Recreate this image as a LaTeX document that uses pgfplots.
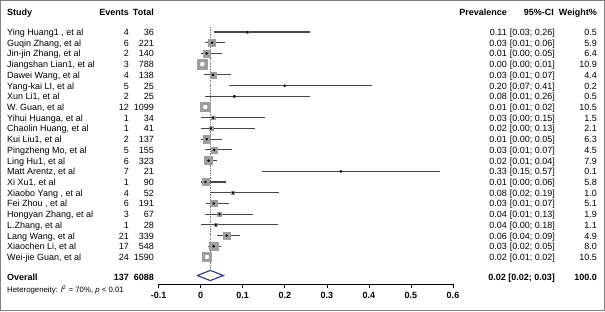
\documentclass[border=0pt]{standalone}
\usepackage{pgfplots}
\pgfplotsset{compat=1.18}
\usepackage{pgfplotstable}
\usepackage{fontspec}
\setmainfont{Liberation Sans}
\definecolor{sqgray}{RGB}{158,158,158}
\definecolor{cigray}{RGB}{70,70,70}
\definecolor{dnavy}{RGB}{35,55,145}
\definecolor{framegray}{RGB}{128,128,128}

\pgfplotstableread{
row est lo hi w
1 0.1111 0.0311 0.2610 0.5
2 0.0271 0.0100 0.0581 5.9
3 0.0143 0.0017 0.0507 6.4
4 0.0038 0.0008 0.0111 10.9
5 0.0290 0.0080 0.0725 4.4
6 0.2000 0.0683 0.4070 0.2
7 0.0800 0.0098 0.2603 0.5
8 0.0109 0.0057 0.0190 10.5
9 0.0294 0.0007 0.1533 1.5
10 0.0244 0.0006 0.1286 2.1
11 0.0146 0.0018 0.0517 6.3
12 0.0323 0.0106 0.0737 4.5
13 0.0186 0.0068 0.0400 7.9
14 0.3333 0.1459 0.5697 0.1
15 0.0111 0.0003 0.0604 5.8
16 0.0769 0.0214 0.1854 1.0
17 0.0314 0.0116 0.0671 5.1
18 0.0448 0.0093 0.1253 1.9
19 0.0357 0.0009 0.1835 1.1
20 0.0619 0.0388 0.0932 4.9
21 0.0310 0.0181 0.0492 8.0
22 0.0151 0.0097 0.0224 10.5
}\allstudies

\pgfplotstableread{
row est lo hi w
1 0.1111 0.0311 0.2610 0.5
2 0.0271 0.0100 0.0581 5.9
3 0.0143 0.0017 0.0507 6.4
5 0.0290 0.0080 0.0725 4.4
6 0.2000 0.0683 0.4070 0.2
7 0.0800 0.0098 0.2603 0.5
9 0.0294 0.0007 0.1533 1.5
10 0.0244 0.0006 0.1286 2.1
11 0.0146 0.0018 0.0517 6.3
12 0.0323 0.0106 0.0737 4.5
13 0.0186 0.0068 0.0400 7.9
14 0.3333 0.1459 0.5697 0.1
15 0.0111 0.0003 0.0604 5.8
16 0.0769 0.0214 0.1854 1.0
17 0.0314 0.0116 0.0671 5.1
18 0.0448 0.0093 0.1253 1.9
19 0.0357 0.0009 0.1835 1.1
20 0.0619 0.0388 0.0932 4.9
21 0.0310 0.0181 0.0492 8.0
}\smallstudies

\pgfplotstableread{
row est lo hi w
4 0.0038 0.0008 0.0111 10.9
8 0.0109 0.0057 0.0190 10.5
22 0.0151 0.0097 0.0224 10.5
}\bigstudies

\newcommand{\rowfont}{\fontsize{9}{10.5}\selectfont}

\begin{document}
\begin{tikzpicture}
\begin{axis}[
  at={(158.6pt,-284pt)}, anchor=south west,
  scale only axis, width=294.4pt, height=284pt,
  xmin=-0.1, xmax=0.6,
  y dir=reverse, ymin=-1.9867, ymax=24.520,
  axis x line*=bottom, axis y line=none,
  axis line style={black, line width=0.6pt},
  xtick={-0.1,0,0.1,0.2,0.3,0.4,0.5,0.6},
  xticklabels={-0.1,0,0.1,0.2,0.3,0.4,0.5,0.6},
  xtick align=outside, major tick length=3.5pt,
  tick style={black, line width=0.6pt},
  xticklabel style={font=\rowfont\bfseries, yshift=-1pt},
  clip=false,
]
% reference line at the overall estimate
\addplot[densely dotted, gray, line width=0.7pt] coordinates {(0.023,0.53) (0.023,23.25)};
% squares
\addplot[scatter, only marks, mark=square*, point meta=\thisrow{w},
  scatter/use mapped color={draw=sqgray, fill=sqgray},
  visualization depends on={1.42*sqrt(\thisrow{w}) \as \msz},
  scatter/@pre marker code/.append style={/tikz/mark size=\msz}]
  table[x=est, y=row] {\allstudies};
% confidence intervals and point estimates
\addplot[only marks, mark=*, mark size=1pt, black,
  error bars/.cd, x dir=both, x explicit, error mark=none,
  error bar style={draw=cigray, line width=1.15pt, solid}]
  table[x=est, y=row, x error plus expr=\thisrow{hi}-\thisrow{est},
        x error minus expr=\thisrow{est}-\thisrow{lo}] {\smallstudies};
\addplot[only marks, mark=none, white,
  error bars/.cd, x dir=both, x explicit, error mark=none,
  error bar style={draw=white, line width=0.8pt, solid}]
  table[x=est, y=row, x error plus expr=\thisrow{hi}-\thisrow{est},
        x error minus expr=\thisrow{est}-\thisrow{lo}] {\bigstudies};
% overall diamond
\addplot[draw=dnavy, fill=white, line width=1.1pt] coordinates
  {(-0.008,23.727) (0.023,23.25) (0.054,23.727) (0.023,24.2) (-0.008,23.727)};
\end{axis}

\begin{scope}[x=1pt, y=-1pt, every node/.style={inner sep=0pt, text height=1.6ex, text depth=0.3ex, font=\rowfont}]
\draw[framegray, line width=1.3pt] (0.65,0.65) rectangle (604.35,310.35);
% header
\node[anchor=west, font=\rowfont\bfseries] at (7,11.7) {Study};
\node[anchor=east, font=\rowfont\bfseries] at (129,11.7) {Events};
\node[anchor=east, font=\rowfont\bfseries] at (154,11.7) {Total};
\node[anchor=east, font=\rowfont\bfseries] at (507,11.7) {Prevalence};
\node[anchor=east, font=\rowfont\bfseries] at (554,11.7) {95\%-CI};
\node[anchor=east, font=\rowfont\bfseries] at (597,11.7) {Weight\%};
% rows
\foreach \i/\name/\ev/\tot/\pr/\ci/\wt in {
 1/{Ying Huang1 , et al}/4/36/0.11/{[0.03; 0.26]}/0.5,
 2/{Guqin Zhang, et al}/6/221/0.03/{[0.01; 0.06]}/5.9,
 3/{Jin-jin Zhang, et al}/2/140/0.01/{[0.00; 0.05]}/6.4,
 4/{Jiangshan Lian1, et al}/3/788/0.00/{[0.00; 0.01]}/10.9,
 5/{Dawei Wang, et al}/4/138/0.03/{[0.01; 0.07]}/4.4,
 6/{Yang-kai LI, et al}/5/25/0.20/{[0.07; 0.41]}/0.2,
 7/{Xun Li1, et al}/2/25/0.08/{[0.01; 0.26]}/0.5,
 8/{W. Guan, et al}/12/1099/0.01/{[0.01; 0.02]}/10.5,
 9/{Yihui Huanga, et al}/1/34/0.03/{[0.00; 0.15]}/1.5,
 10/{Chaolin Huang, et al}/1/41/0.02/{[0.00; 0.13]}/2.1,
 11/{Kui Liu1, et al}/2/137/0.01/{[0.00; 0.05]}/6.3,
 12/{Pingzheng Mo, et al}/5/155/0.03/{[0.01; 0.07]}/4.5,
 13/{Ling Hu1, et al}/6/323/0.02/{[0.01; 0.04]}/7.9,
 14/{Matt Arentz, et al}/7/21/0.33/{[0.15; 0.57]}/0.1,
 15/{Xi Xu1, et al}/1/90/0.01/{[0.00; 0.06]}/5.8,
 16/{Xiaobo Yang , et al}/4/52/0.08/{[0.02; 0.19]}/1.0,
 17/{Fei Zhou , et al}/6/191/0.03/{[0.01; 0.07]}/5.1,
 18/{Hongyan Zhang, et al}/3/67/0.04/{[0.01; 0.13]}/1.9,
 19/{L.Zhang, et al}/1/28/0.04/{[0.00; 0.18]}/1.1,
 20/{Lang Wang, et al}/21/339/0.06/{[0.04; 0.09]}/4.9,
 21/{Xiaochen Li, et al}/17/548/0.03/{[0.02; 0.05]}/8.0,
 22/{Wei-jie Guan, et al}/24/1590/0.02/{[0.01; 0.02]}/10.5}{
  \pgfmathsetmacro{\yy}{32+10.714*(\i-1)}
  \node[anchor=west] at (7,\yy) {\name};
  \node[anchor=east] at (129,\yy) {\ev};
  \node[anchor=east] at (154,\yy) {\tot};
  \node[anchor=east] at (507,\yy) {\pr};
  \node[anchor=east] at (555,\yy) {\ci};
  \node[anchor=east] at (597,\yy) {\wt};
}
% overall
\node[anchor=west, font=\rowfont\bfseries] at (7,277.3) {Overall};
\node[anchor=east, font=\rowfont\bfseries] at (129,277.3) {137};
\node[anchor=east, font=\rowfont\bfseries] at (154,277.3) {6088};
\node[anchor=east, font=\rowfont\bfseries] at (555,277.3) {0.02 [0.02; 0.03]};
\node[anchor=east, font=\rowfont\bfseries] at (597,277.3) {100.0};
\node[anchor=west, font=\fontsize{7.8}{9}\selectfont] at (7,289) {Heterogeneity: \textit{I}\textsuperscript{2} = 70\%, \textit{p} < 0.01};
\end{scope}
\end{tikzpicture}
\end{document}
